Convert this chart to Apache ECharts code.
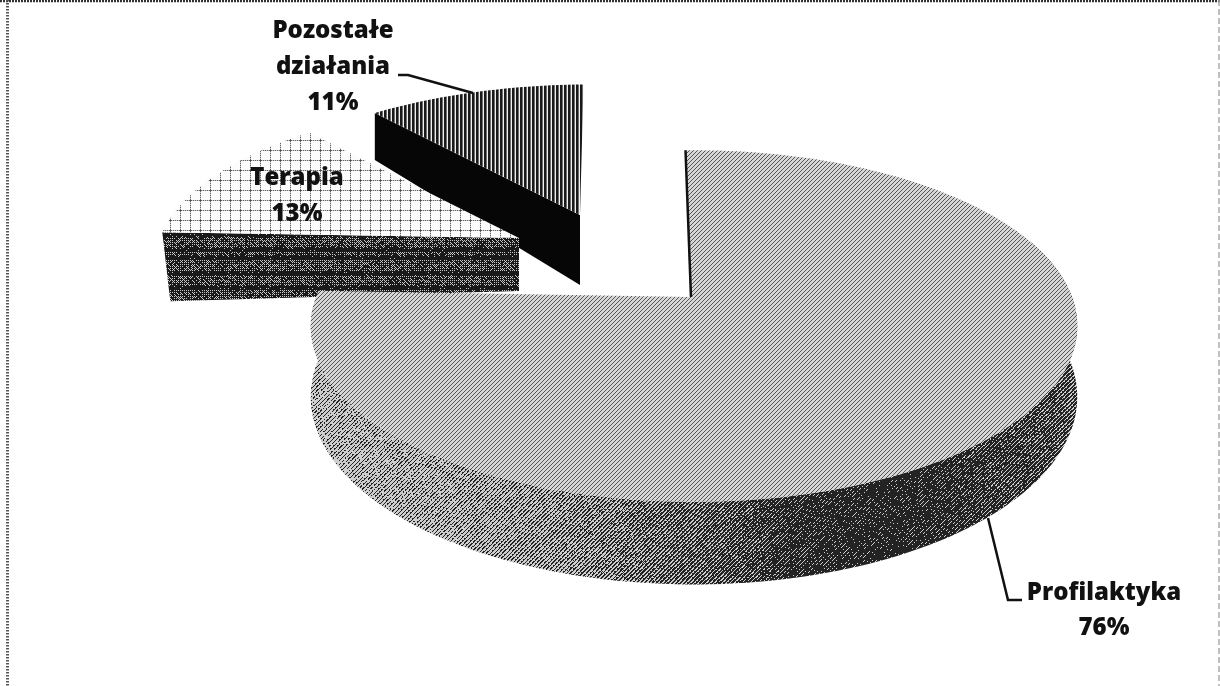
<!DOCTYPE html>
<html><head><meta charset="utf-8">
<style>html,body{margin:0;padding:0;background:#fff}#c{width:1220px;height:686px}</style>
<script src="https://cdn.jsdelivr.net/npm/echarts@6/dist/echarts.min.js"></script>
</head><body><div id="c"></div>
<script>
// ---- data ----
const categories = ['Profilaktyka', 'Terapia', 'Pozostałe działania'];
const values = [76, 13, 11];
const labelLines = [['Profilaktyka'], ['Terapia'], ['Pozostałe', 'działania']];

// ---- projection and slice layout (tilted disc) ----
const RX = 378, RY = 171, PERSP = 0.165, START_DEG = -1.5;
const sliceLayouts = [
  {ax: 694, ay: 297, scale: 1, scaleY: 1, skew: 0, wallDepth: 69, apexDraw: [690, 297]},
  {ax: 519, ay: 238, scale: 0.95, scaleY: 0.92, skew: 0, cutRim: 69, cutApex: 53, inset: 8},
  {ax: 580, ay: 215, scale: 0.97, scaleY: 0.89, skew: 0.09, cutRim: 47, cutApex: 70, inset: 0}
];
const labelLayouts = [
  {x: 1104, y: 593, step: 35},
  {x: 297, y: 178, step: 36},
  {x: 333, y: 31, step: 36}
];
const leaders = [
  [[988, 518], [1008, 600], [1022, 600]],
  null,
  [[398, 75], [408, 75], [473, 93]]
];
const FONT = '"Open Sans", Lato, sans-serif';

// ---- textures (1-bit scan look) ----
const BAYER = [[0,32,8,40,2,34,10,42],[48,16,56,24,50,18,58,26],[12,44,4,36,14,46,6,38],[60,28,52,20,62,30,54,22],
               [3,35,11,43,1,33,9,41],[51,19,59,27,49,17,57,25],[15,47,7,39,13,45,5,37],[63,31,55,23,61,29,53,21]];
function hash(x, y) { let h = (x * 374761393 + y * 668265263) | 0; h = (h ^ (h >>> 13)) * 1274126177 | 0; return ((h ^ (h >>> 16)) >>> 0) % 1000 / 1000; }
function makeTexture(w, h, fn) {
  const c = document.createElement('canvas'); c.width = w; c.height = h;
  const g = c.getContext('2d'), d = g.createImageData(w, h);
  for (let y = 0; y < h; y++) for (let x = 0; x < w; x++) {
    const v = fn(x, y), i = (y * w + x) * 4;
    d.data[i] = d.data[i + 1] = d.data[i + 2] = v; d.data[i + 3] = 255;
  }
  g.putImageData(d, 0, 0); return {image: c, repeat: 'repeat'};
}
function dither(gray, x, y, noise) {
  const t = (BAYER[y & 7][x & 7] + 0.5) / 64 * (1 - noise) + hash(x, y) * noise;
  return gray / 255 > t ? 235 : 25;
}
function ramp(stops, x) {
  for (let i = 1; i < stops.length; i++) if (x <= stops[i][0]) {
    const a = stops[i - 1], b = stops[i], f = Math.max(0, (x - a[0]) / (b[0] - a[0]));
    return a[1] + (b[1] - a[1]) * f;
  }
  return stops[stops.length - 1][1];
}
const mainWallStops = [[300,150],[450,140],[600,110],[700,80],[800,40],[900,22],[980,55],[1050,65],[1085,90]];
const texMainTop = makeTexture(128, 128, (x, y) => {
  const t = ((x + y) % 4) / 4 * 0.85 + hash(x, y) * 0.15;
  return 0.6 > t ? 215 : 85;
});
const texMainWall = makeTexture(1220, 686, (x, y) => {
  const t = ((x + y) % 4) / 4 * 0.7 + hash(x, y) * 0.3;
  return ramp(mainWallStops, x) / 255 > t ? 205 : 35;
});
const texTerapiaTop = makeTexture(40, 40, (x, y) => {
  const sx = x % 10 === 0, sy = y % 10 === 0;
  if (sx && sy) return 70;
  if (sy) return x % 2 ? 100 : 200;
  if (sx) return y % 2 ? 100 : 200;
  return 252;
});
const texTerapiaWall = makeTexture(200, 128, (x, y) => {
  const band = (y % 15) < 4 ? 30 : 85;
  return dither(band, x, y, 0.3) > 100 ? 200 : 25;
});
const texPozTop = makeTexture(4, 4, (x) => [25, 25, 110, 240][x]);

// ---- geometry from values ----
const total = values.reduce((a, b) => a + b, 0);
function rimPoint(L, deg, dy) {
  const t = deg * Math.PI / 180, u = Math.sin(t), v = Math.cos(t), s = 1 / (1 + PERSP * v);
  const h = RY * v * s * L.scaleY;
  return [L.ax + RX * u * s * L.scale + L.skew * h, L.ay - h + (dy ? dy * s : 0)];
}
function arc(L, a0, a1, dy) {
  const n = Math.max(8, Math.ceil(Math.abs(a1 - a0) / 1.5)), pts = [];
  for (let i = 0; i <= n; i++) pts.push(rimPoint(L, a0 + (a1 - a0) * i / n, dy));
  return pts;
}
const angles = []; let acc = START_DEG;
values.forEach(v => { const a = v / total * 360; angles.push([acc, acc + a]); acc += a; });
const topFills = [texMainTop, texTerapiaTop, texPozTop];

function renderSlice(params, api) {
  const i = api.value(2), L = sliceLayouts[i], [a0, a1] = angles[i], kids = [];
  const top = arc(L, a0, a1);
  const apex = L.apexDraw || [L.ax, L.ay];
  if (i === 0) {
    const wallTop = arc(L, 70, a1), wallBot = arc(L, 70, a1, L.wallDepth).reverse();
    kids.push({type: 'polygon', shape: {points: wallTop.concat(wallBot)}, style: {fill: texMainWall}});
  } else {
    const left = top[0];
    kids.push({type: 'polygon', shape: {points: [left, apex, [apex[0], apex[1] + L.cutApex], [left[0] + L.inset, left[1] + L.cutRim]]},
      style: {fill: i === 1 ? texTerapiaWall : '#060606'}});
  }
  kids.push({type: 'polygon', shape: {points: [apex].concat(top)}, style: {fill: topFills[i]}});
  if (i === 0) {
    kids.push({type: 'polyline', shape: {points: [top[0], [apex[0] + 1, apex[1]]]}, style: {stroke: '#111', lineWidth: 2.5, fill: 'none'}});
  }
  if (leaders[i]) kids.push({type: 'polyline', shape: {points: leaders[i]}, style: {stroke: '#111', lineWidth: 2.5, fill: 'none'}});
  const T = labelLayouts[i];
  labelLines[i].concat([values[i] + '%']).forEach((txt, k) => {
    kids.push({type: 'text', z2: 5, style: {text: txt, x: T.x, y: T.y + k * T.step, align: 'center', verticalAlign: 'middle',
      font: '800 24px ' + FONT, fill: '#111'}});
  });
  return {type: 'group', children: kids};
}

// far slices are painted first so the big slice covers them
const drawOrder = [2, 1, 0];
const chart = echarts.init(document.getElementById('c'), null, {renderer: 'canvas', devicePixelRatio: 1, width: 1220, height: 686});
chart.setOption({
  animation: false,
  backgroundColor: '#fff',
  graphic: [
    {type: 'line', z: 100, shape: {x1: 0, y1: 1, x2: 1220, y2: 1}, style: {stroke: '#333', lineWidth: 2.5, lineDash: [2, 1]}},
    {type: 'line', z: 100, shape: {x1: 7.5, y1: 0, x2: 7.5, y2: 686}, style: {stroke: '#555', lineWidth: 3, lineDash: [1.5, 1.5]}},
    {type: 'line', z: 100, shape: {x1: 1219, y1: 0, x2: 1219, y2: 686}, style: {stroke: '#aaa', lineWidth: 1.5, lineDash: [6, 3]}}
  ],
  series: [{
    type: 'custom', coordinateSystem: 'none', renderItem: renderSlice, silent: true,
    data: drawOrder.map(i => ({name: categories[i], value: [values[i], 0, i]}))
  }]
});
</script></body></html>
